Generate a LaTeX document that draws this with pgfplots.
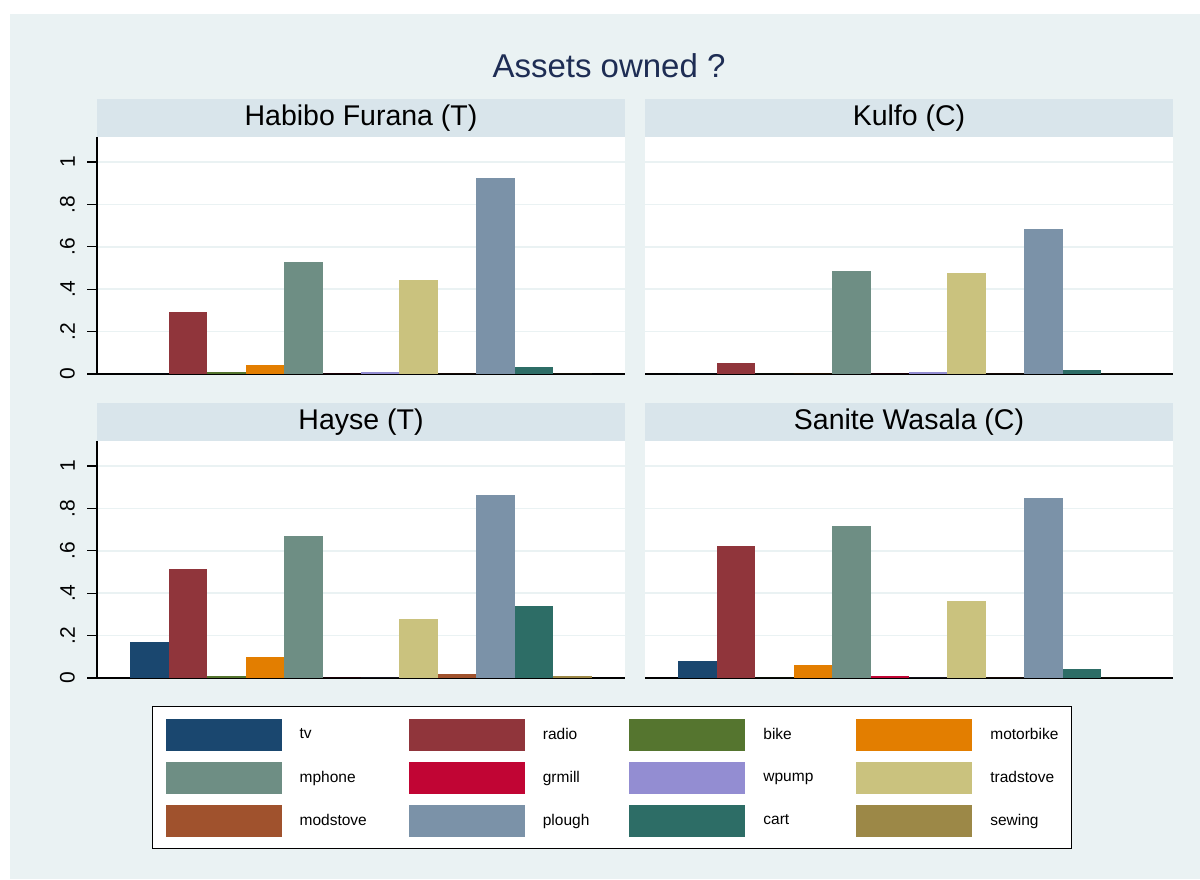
\documentclass[border=0pt]{standalone}
\usepackage{pgfplots}
\pgfplotsset{compat=1.18}
\usepackage{fontspec}
\setmainfont{Liberation Sans}

% asset colours
\definecolor{ctv}{RGB}{26,71,111}
\definecolor{cradio}{RGB}{144,53,59}
\definecolor{cbike}{RGB}{85,117,47}
\definecolor{cmotorbike}{RGB}{227,126,0}
\definecolor{cmphone}{RGB}{110,142,132}
\definecolor{cgrmill}{RGB}{193,5,52}
\definecolor{cwpump}{RGB}{147,141,210}
\definecolor{ctradstove}{RGB}{202,194,126}
\definecolor{cmodstove}{RGB}{160,82,45}
\definecolor{cplough}{RGB}{123,146,168}
\definecolor{ccart}{RGB}{45,109,102}
\definecolor{csewing}{RGB}{156,136,71}
% frame colours
\definecolor{bgc}{RGB}{234,242,243}
\definecolor{stripc}{RGB}{217,229,235}
\definecolor{titlec}{RGB}{30,45,84}

\pgfplotscreateplotcyclelist{assets}{
  {fill=ctv,draw=none},{fill=cradio,draw=none},{fill=cbike,draw=none},
  {fill=cmotorbike,draw=none},{fill=cmphone,draw=none},{fill=cgrmill,draw=none},
  {fill=cwpump,draw=none},{fill=ctradstove,draw=none},{fill=cmodstove,draw=none},
  {fill=cplough,draw=none},{fill=ccart,draw=none},{fill=csewing,draw=none}}

\pgfplotsset{
  layers/gridbelow/.define layer set={axis background,axis grid,pre main,main,
    axis ticks,axis lines,axis tick labels,axis descriptions,axis foreground}{},
  panel/.style={
    set layers=gridbelow,
    scale only axis, width=528pt, height=237pt,
    xmin=-0.36, xmax=13.36, ymin=0, ymax=1.118,
    ybar, bar width=1, bar shift=0pt,
    axis background/.style={fill=white},
    cycle list name=assets,
    axis x line*=bottom, axis y line*=left,
    axis line style={black, line width=1.3pt},
    xtick=\empty,
    ytick={0,0.2,0.4,0.6,0.8,1},
    ymajorgrids, major grid style={draw=bgc, line width=1.6pt},
    tick align=outside, major tick length=10pt,
    ytick style={black, line width=1.3pt},
    yticklabel style={xshift=-12pt, rotate=90, anchor=south, inner sep=0pt,
      font=\fontsize{21}{21}\selectfont},
    title style={at={(0.5,1)}, anchor=south, fill=stripc,
      minimum width=528pt, minimum height=38pt, inner sep=0pt, yshift=-6pt,
      font=\fontsize{28.5}{28.5}\selectfont},
  },
  leftpanel/.style={panel, yticklabels={0,.2,.4,.6,.8,1}},
  rightpanel/.style={panel, yticklabels={}, ytick style={draw=none},
    y axis line style={draw=none}},
}

\begin{document}
\begin{tikzpicture}[x=1pt,y=1pt]
\fill[white] (0,0) rectangle (1200,879);
\fill[bgc] (10,0) rectangle (1200,865);
\node[text=titlec, font=\fontsize{33}{33}\selectfont] at (609,813) {Assets owned ?};

% Habibo Furana (T)
\begin{axis}[leftpanel, at={(97pt,505pt)}, anchor=south west, title={Habibo Furana (T)}]
\addplot coordinates {(1,0)};
\addplot coordinates {(2,0.293)};
\addplot coordinates {(3,0.008)};
\addplot coordinates {(4,0.042)};
\addplot coordinates {(5,0.528)};
\addplot coordinates {(6,0)};
\addplot coordinates {(7,0.008)};
\addplot coordinates {(8,0.445)};
\addplot coordinates {(9,0)};
\addplot coordinates {(10,0.925)};
\addplot coordinates {(11,0.033)};
\addplot coordinates {(12,0)};
\end{axis}

% Kulfo (C)
\begin{axis}[rightpanel, at={(645pt,505pt)}, anchor=south west, title={Kulfo (C)}]
\addplot coordinates {(1,0)};
\addplot coordinates {(2,0.052)};
\addplot coordinates {(3,0)};
\addplot coordinates {(4,0)};
\addplot coordinates {(5,0.486)};
\addplot coordinates {(6,0)};
\addplot coordinates {(7,0.008)};
\addplot coordinates {(8,0.476)};
\addplot coordinates {(9,0)};
\addplot coordinates {(10,0.686)};
\addplot coordinates {(11,0.02)};
\addplot coordinates {(12,0)};
\end{axis}

% Hayse (T)
\begin{axis}[leftpanel, at={(97pt,201pt)}, anchor=south west, title={Hayse (T)},
  legend columns=4,
  legend image code/.code={\path[#1] (0pt,-16pt) rectangle (116pt,16pt);},
  legend style={at={(0.1042,-0.1181)}, anchor=north west,
    draw=black, line width=1.3pt, fill=white,
    inner xsep=13pt, inner ysep=12pt, row sep=11pt,
    nodes={inner sep=0pt, font=\fontsize{15.5}{15.5}\selectfont},
    cells={anchor=west},
    /tikz/every odd column/.append style={column sep=18pt},
    /tikz/column 2/.append style={column sep=42pt},
    /tikz/column 4/.append style={column sep=40pt},
    /tikz/column 6/.append style={column sep=43pt}}]
\addplot coordinates {(1,0.17)};
\addplot coordinates {(2,0.514)};
\addplot coordinates {(3,0.008)};
\addplot coordinates {(4,0.099)};
\addplot coordinates {(5,0.670)};
\addplot coordinates {(6,0)};
\addplot coordinates {(7,0)};
\addplot coordinates {(8,0.278)};
\addplot coordinates {(9,0.018)};
\addplot coordinates {(10,0.863)};
\addplot coordinates {(11,0.340)};
\addplot coordinates {(12,0.008)};
\legend{tv,radio,bike,motorbike,mphone,grmill,wpump,tradstove,modstove,plough,cart,sewing}
\end{axis}

% Sanite Wasala (C)
\begin{axis}[rightpanel, at={(645pt,201pt)}, anchor=south west, title={Sanite Wasala (C)}]
\addplot coordinates {(1,0.080)};
\addplot coordinates {(2,0.623)};
\addplot coordinates {(3,0)};
\addplot coordinates {(4,0.061)};
\addplot coordinates {(5,0.717)};
\addplot coordinates {(6,0.010)};
\addplot coordinates {(7,0)};
\addplot coordinates {(8,0.363)};
\addplot coordinates {(9,0)};
\addplot coordinates {(10,0.849)};
\addplot coordinates {(11,0.042)};
\addplot coordinates {(12,0)};
\end{axis}
\end{tikzpicture}
\end{document}
